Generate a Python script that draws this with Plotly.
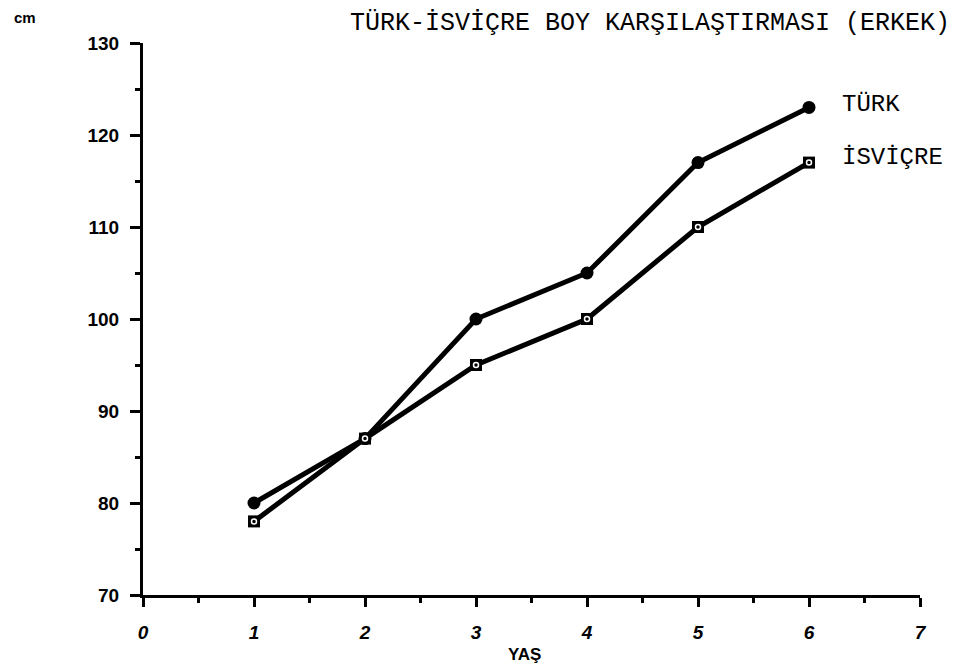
import plotly.graph_objects as go

# Data
ages = [1, 2, 3, 4, 5, 6]
turk = [80, 87, 100, 105, 117, 123]
isvicre = [78, 87, 95, 100, 110, 117]
series_names = ["TÜRK", "İSVİÇRE"]
x_ticks = [0, 1, 2, 3, 4, 5, 6, 7]
y_ticks = [70, 80, 90, 100, 110, 120, 130]
title_text = "TÜRK-İSVİÇRE BOY KARŞILAŞTIRMASI (ERKEK)"

# page has an 8px body margin; figure is drawn offset by it
OFF = 8
W, H = 955 - OFF, 669 - OFF
L, R, T, B = 135, 35, 35, 74
PW, PH = W - L - R, H - T - B

def px_x(x):  # screenshot px -> paper x
    return (x - OFF - L) / PW

def px_y(y):  # screenshot px -> paper y
    return 1 - (y - OFF - T) / PH

fig = go.Figure()
fig.add_trace(go.Scatter(
    x=ages, y=turk, mode="lines+markers", name=series_names[0],
    line=dict(color="black", width=5),
    marker=dict(symbol="circle", size=13, color="black"),
    cliponaxis=False,
))
fig.add_trace(go.Scatter(
    x=ages, y=isvicre, mode="lines+markers", name=series_names[1],
    line=dict(color="black", width=5),
    marker=dict(symbol="square", size=12, color="black"),
    cliponaxis=False,
))
fig.add_trace(go.Scatter(
    x=ages, y=isvicre, mode="markers", showlegend=False, hoverinfo="skip",
    marker=dict(symbol="circle-open", size=5, color="white", line=dict(color="white", width=1.5)),
    cliponaxis=False,
))

mono = "Liberation Mono, Courier New, monospace"
sans = "Liberation Sans, Arial, sans-serif"

fig.add_annotation(x=ages[-1], y=turk[-1], text=series_names[0], showarrow=False,
                   xanchor="left", yanchor="middle", xshift=31, yshift=3,
                   font=dict(family=mono, size=24, color="black"))
fig.add_annotation(x=ages[-1], y=isvicre[-1], text=series_names[1], showarrow=False,
                   xanchor="left", yanchor="middle", xshift=31, yshift=5,
                   font=dict(family=mono, size=24, color="black"))

# "cm" unit label
fig.add_annotation(xref="paper", yref="paper", x=px_x(12), y=px_y(18),
                   text="<b>cm</b>", showarrow=False, xanchor="left", yanchor="middle",
                   font=dict(family=sans, size=15, color="black"))
# x axis title
fig.add_annotation(xref="paper", yref="paper", x=px_x(524), y=px_y(654),
                   text="<b>YAŞ</b>", showarrow=False, xanchor="center", yanchor="middle",
                   font=dict(family=sans, size=17, color="black"))
# title
fig.add_annotation(xref="paper", yref="paper", x=px_x(952), y=px_y(24),
                   text=title_text, showarrow=False, xanchor="right", yanchor="middle",
                   font=dict(family=mono, size=25, color="black"))

fig.update_layout(
    width=W, height=H,
    margin=dict(l=L, r=R, t=T, b=B),
    paper_bgcolor="white", plot_bgcolor="white",
    showlegend=False,
)
fig.update_xaxes(
    range=[0, 7], tickvals=x_ticks, ticktext=[str(v) for v in x_ticks],
    showline=True, linecolor="black", linewidth=3, showgrid=False, zeroline=False,
    ticks="outside", ticklen=9, tickwidth=3, tickcolor="black",
    ticklabelstandoff=9,
    tickfont=dict(family=sans, size=19, color="black", weight="bold", style="italic"),
    minor=dict(dtick=0.5, tick0=0, ticks="outside", ticklen=5, tickwidth=3, tickcolor="black", showgrid=False),
)
fig.update_yaxes(
    range=[70, 130], tickvals=y_ticks, ticktext=[str(v) for v in y_ticks],
    showline=True, linecolor="black", linewidth=3, showgrid=False, zeroline=False,
    ticks="outside", ticklen=10, tickwidth=3, tickcolor="black",
    ticklabelstandoff=7,
    tickfont=dict(family=sans, size=19, color="black", weight="bold"),
    minor=dict(dtick=5, tick0=70, ticks="outside", ticklen=5, tickwidth=3, tickcolor="black", showgrid=False),
)

fig.write_html("out.html")
